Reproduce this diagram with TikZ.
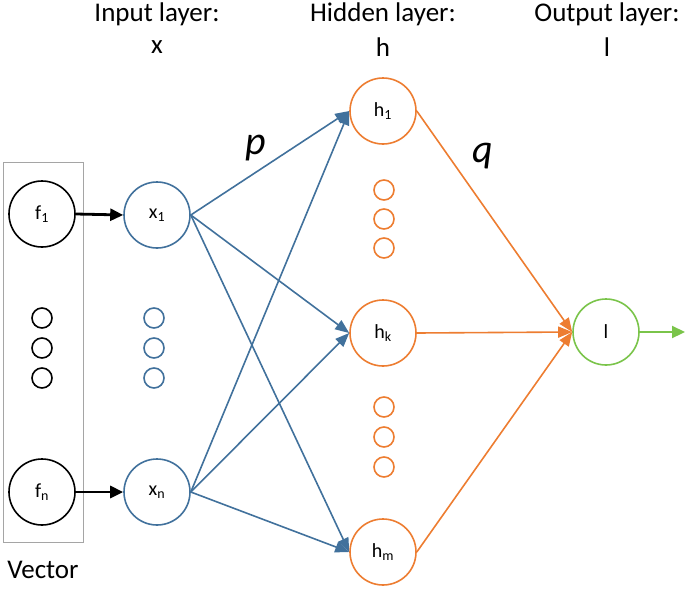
\documentclass[tikz,border=0pt]{standalone}
\usepackage{fontspec}
\setmainfont{Carlito}
\usetikzlibrary{arrows.meta}
\definecolor{nblue}{RGB}{65,113,156}
\definecolor{norange}{RGB}{237,125,49}
\definecolor{ngreen}{RGB}{122,196,74}
\definecolor{ngray}{RGB}{165,165,165}
\begin{document}
\begin{tikzpicture}[x=1pt,y=-1pt,
  neuron/.style={circle,draw,line width=1.6pt,minimum size=66pt,inner sep=0pt,font=\fontsize{20}{22}\selectfont,fill=white},
  dotc/.style={circle,draw,line width=1.6pt,minimum size=20pt,inner sep=0pt},
  head/.style={font=\fontsize{27}{30}\selectfont,anchor=center},
  bw/.style={line width=1.6pt,nblue,-{Triangle[length=14pt,width=11pt]}},
  ow/.style={line width=1.6pt,norange,-{Triangle[length=14pt,width=11pt]}},
  kw/.style={line width=2.8pt,black,-{Triangle[length=13pt,width=12pt]}},
  gw/.style={line width=2.2pt,ngreen,-{Triangle[length=13pt,width=12pt]}},
  wlab/.style={font=\fontsize{40}{42}\selectfont\itshape}
]
\useasboundingbox (0,0) rectangle (685,592);
% vector box
\node[draw=ngray,line width=0.8pt,minimum width=80pt,minimum height=380pt,inner sep=0pt] (box) at (43,352) {};
\node[head] (vec) at (43,570) {Vector};
% headers
\node[head] (hin) at (157,14) {Input layer:};
\node[head] (hinx) at (157,47) {x};
\node[head] (hhid) at (383,14) {Hidden layer:};
\node[head] (hhidh) at (383,47) {h};
\node[head] (hout) at (607,14) {Output layer:};
\node[head] (houtl) at (607,47) {l};
% feature nodes
\node[neuron,draw=black] (f1) at (42,214) {f\textsubscript{1}};
\node[neuron,draw=black] (fn) at (42,492) {f\textsubscript{n}};
\foreach \y [count=\i] in {318,348,378} \node[dotc,draw=black] (fd\i) at (42,\y) {};
% input nodes
\node[neuron,draw=nblue] (x1) at (157,215) {x\textsubscript{1}};
\node[neuron,draw=nblue] (xn) at (157,492) {x\textsubscript{n}};
\foreach \y [count=\i] in {318,348,378} \node[dotc,draw=nblue] (xd\i) at (154,\y) {};
% hidden nodes
\node[neuron,draw=norange] (h1) at (383,111) {h\textsubscript{1}};
\node[neuron,draw=norange] (hk) at (383,333) {h\textsubscript{k}};
\node[neuron,draw=norange] (hm) at (383,552) {h\textsubscript{m}};
\foreach \y [count=\i] in {190,219,248} \node[dotc,draw=norange] (ha\i) at (384,\y) {};
\foreach \y [count=\i] in {407,437,467} \node[dotc,draw=norange] (hb\i) at (384,\y) {};
% output node
\node[neuron,draw=ngreen] (l) at (606,332) {l};
\coordinate (lout) at (685,332);
% connectors
\draw[kw] (f1.east) -- (x1.west);
\draw[kw] (fn.east) -- (xn.west);
\foreach \h in {h1,hk,hm} {
  \draw[bw] (x1.east) -- (\h.west);
  \draw[bw] (xn.east) -- (\h.west);
  \draw[ow] (\h.east) -- (l.west);
}
\draw[gw] (l.east) -- (lout);
% weight labels
\node[wlab] (p) at (256,148) {p};
\node[wlab] (q) at (483,156) {q};
\end{tikzpicture}
\end{document}
